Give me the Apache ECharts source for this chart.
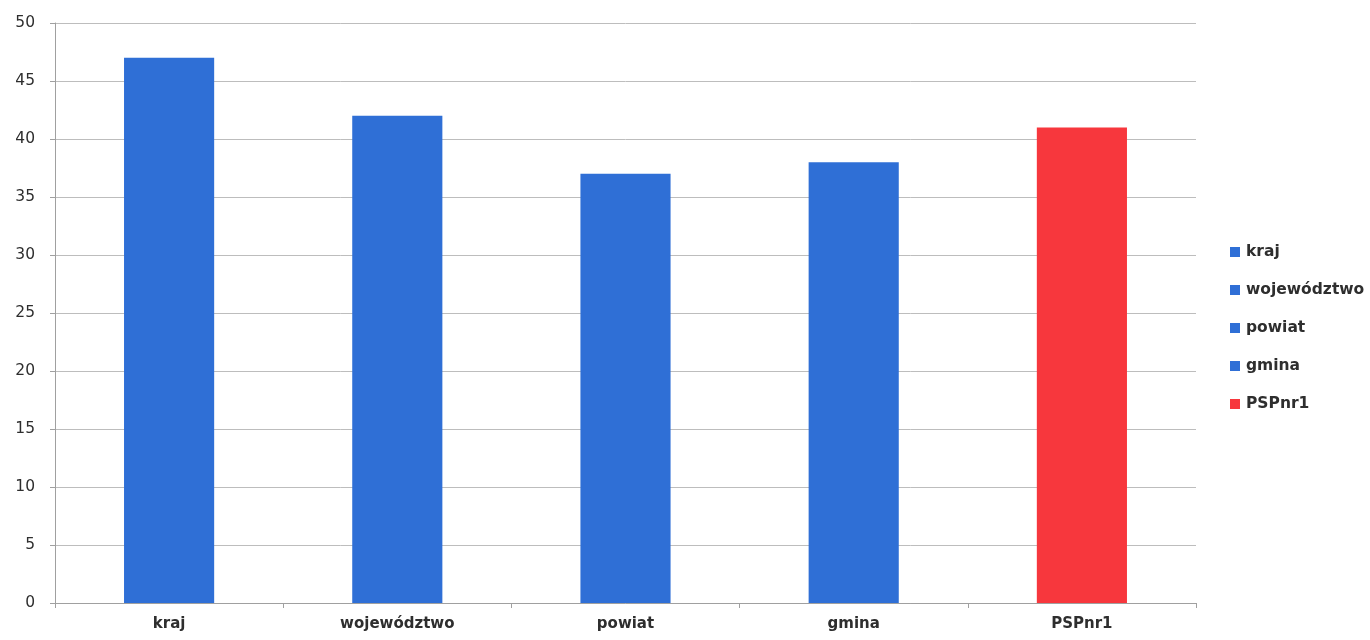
<!DOCTYPE html>
<html>
<head>
<meta charset="utf-8">
<script src="https://cdn.jsdelivr.net/npm/echarts@6/dist/echarts.min.js"></script>
<style>
html,body{margin:0;padding:0;background:#fff;}
#chart{width:1370px;height:640px;}
</style>
</head>
<body>
<div id="chart"></div>
<script>
const categories = ['kraj', 'województwo', 'powiat', 'gmina', 'PSPnr1'];
const values = [47, 42, 37, 38, 41];
const colors = ['#2F6FD6', '#2F6FD6', '#2F6FD6', '#2F6FD6', '#F7373D'];
const yTicks = { min: 0, max: 50, interval: 5 };

const FONT = 'DejaVu Sans';
const chart = echarts.init(document.getElementById('chart'), null, { renderer: 'canvas' });

const series = categories.map((name, i) => ({
  name: name,
  type: 'bar',
  barGap: '-100%',
  barWidth: '39.5%',
  itemStyle: { color: colors[i] },
  data: categories.map((c, j) => (j === i ? values[i] : '-')),
  animation: false
}));

chart.setOption({
  animation: false,
  textStyle: { fontFamily: FONT },
  grid: { left: 55, right: 174, top: 23, bottom: 37, containLabel: false },
  legend: {
    orient: 'vertical',
    left: 1225,
    top: 239,
    itemWidth: 10,
    itemHeight: 10,
    itemGap: 22,
    icon: 'rect',
    textStyle: { fontFamily: FONT, fontSize: 15.5, fontWeight: 'bold', color: '#2e2e2e', padding: [0, 0, 0, 1] },
    data: categories
  },
  xAxis: {
    type: 'category',
    data: categories,
    axisLine: { show: true, lineStyle: { color: '#a0a0a0', width: 1 } },
    axisTick: { show: true, alignWithLabel: false, length: 5, lineStyle: { color: '#a0a0a0' } },
    axisLabel: { fontFamily: FONT, fontSize: 15, fontWeight: 'bold', color: '#2e2e2e', margin: 14 },
    splitLine: { show: false }
  },
  yAxis: {
    type: 'value',
    min: yTicks.min,
    max: yTicks.max,
    interval: yTicks.interval,
    axisLine: { show: true, lineStyle: { color: '#a0a0a0', width: 1 } },
    axisTick: { show: true, length: 5, lineStyle: { color: '#a0a0a0' } },
    axisLabel: { fontFamily: FONT, fontSize: 15.5, color: '#2e2e2e', margin: 20 },
    splitLine: { show: true, lineStyle: { color: '#bdbdbd', width: 1 } }
  },
  series: series
});
</script>
</body>
</html>
